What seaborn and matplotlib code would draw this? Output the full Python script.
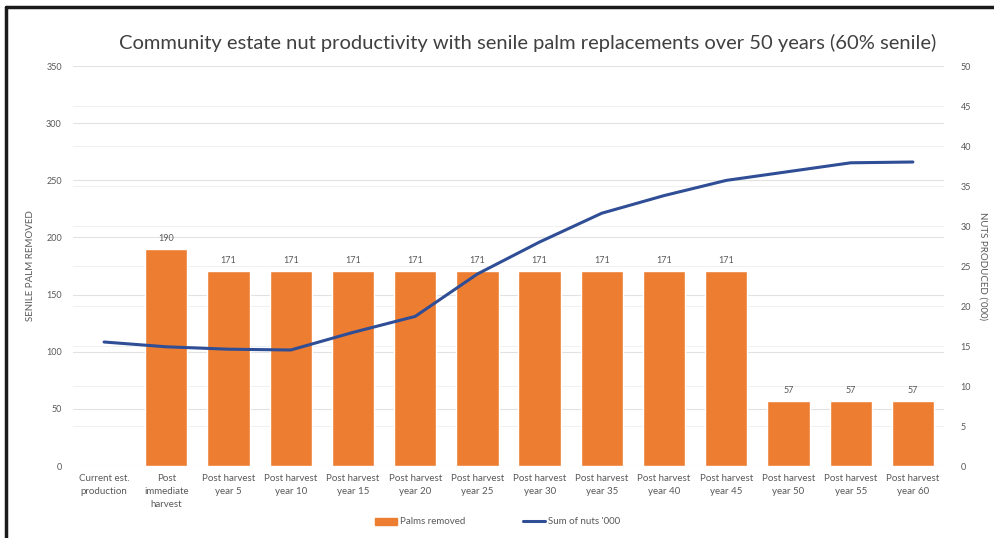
import numpy as np
import pandas as pd
import matplotlib
matplotlib.use("Agg")
import matplotlib.pyplot as plt
import seaborn as sns
from matplotlib.patches import Patch
from matplotlib.lines import Line2D

categories = [
    "Current est.\nproduction", "Post\nimmediate\nharvest",
    "Post harvest\nyear 5", "Post harvest\nyear 10", "Post harvest\nyear 15",
    "Post harvest\nyear 20", "Post harvest\nyear 25", "Post harvest\nyear 30",
    "Post harvest\nyear 35", "Post harvest\nyear 40", "Post harvest\nyear 45",
    "Post harvest\nyear 50", "Post harvest\nyear 55", "Post harvest\nyear 60",
]
palms_removed = [0, 190, 171, 171, 171, 171, 171, 171, 171, 171, 171, 57, 57, 57]
nuts_thousands = [15.5, 14.9, 14.6, 14.5, 16.7, 18.7, 24.0, 28.0, 31.6, 33.8,
                  35.7, 36.8, 37.9, 38.0]
left_ticks = [0, 50, 100, 150, 200, 250, 300, 350]
right_ticks = [0, 5, 10, 15, 20, 25, 30, 35, 40, 45, 50]

BAR = "#ED7D31"
LINE = "#2F4E96"
TXT = "#595959"

sns.set_theme(style="white")
plt.rcParams["font.family"] = ["Lato", "DejaVu Sans"]

df = pd.DataFrame({"cat": categories, "palms": palms_removed,
                   "pos": np.arange(len(categories)), "nuts": nuts_thousands})

fig = plt.figure(figsize=(9.95, 5.38), dpi=100)
ax = fig.add_axes([73 / 995, 1 - 466 / 538, (944 - 73) / 995, 400 / 538])

L_MAX, R_MAX = 350, 50

# gridlines for both value axes sit behind the bars
for y in right_ticks:
    ax.axhline(y * L_MAX / R_MAX, color="#F0F0F0", lw=0.7, zorder=0)
for y in left_ticks:
    ax.axhline(y, color="#E2E2E2", lw=0.8, zorder=0)

sns.barplot(data=df, x="pos", y="palms", color=BAR, width=0.68,
            saturation=1, ax=ax, zorder=2)
ax.set_ylim(0, L_MAX)
ax.set_yticks(left_ticks)
ax.set_xlim(-0.5, len(categories) - 0.5)
ax.set_xticks(np.arange(len(categories)))
ax.set_xticklabels(categories, fontsize=7, color=TXT, linespacing=1.55)
ax.tick_params(axis="y", labelsize=6.5, colors=TXT, length=0, pad=8)
ax.tick_params(axis="x", length=0, pad=6)
ax.set_xlabel("")
ax.set_ylabel("SENILE PALM REMOVED", fontsize=7, color=TXT, labelpad=8)

# value labels above bars
for i, v in enumerate(palms_removed):
    if v > 0:
        ax.text(i, v + 5, f"{v}", ha="center", va="bottom", fontsize=6.5, color=TXT)

ax2 = ax.twinx()
sns.lineplot(data=df, x="pos", y="nuts", color=LINE, lw=2.2, ax=ax2, zorder=3)
ax2.set_ylim(0, R_MAX)
ax2.set_yticks(right_ticks)
ax2.tick_params(axis="y", labelsize=6.5, colors=TXT, length=0, pad=12)
ax2.set_ylabel("NUTS PRODUCED ('000)", fontsize=7, color=TXT, rotation=270,
               labelpad=12)
ax2.set_xlabel("")

for a in (ax, ax2):
    for s in a.spines.values():
        s.set_visible(False)
ax2.patch.set_visible(False)
ax.set_xlim(-0.5, len(categories) - 0.5)

fig.text(0.530, 1 - 43 / 538,
         "Community estate nut productivity with senile palm replacements over 50 years (60% senile)",
         ha="center", va="center", fontsize=14.5, color="#404040")

handles = [Patch(facecolor=BAR, edgecolor=BAR),
           Line2D([0], [0], color=LINE, lw=2.2)]
fig.legend(handles, ["Palms removed", "Sum of nuts '000"], loc="center",
           bbox_to_anchor=(0.5, 1 - 522 / 538), ncol=2, frameon=False,
           fontsize=7, labelcolor=TXT, handlelength=2.2, handletextpad=0.3,
           columnspacing=6)

# dark frame along the top and left edges
fig.add_artist(Line2D([6 / 995, 6 / 995], [0, 1 - 7 / 538], color="#1a1a1a",
                      lw=2.5, transform=fig.transFigure))
fig.add_artist(Line2D([6 / 995, 1], [1 - 7 / 538, 1 - 7 / 538], color="#1a1a1a",
                      lw=2.5, transform=fig.transFigure))

fig.savefig("out.png", dpi=100)
